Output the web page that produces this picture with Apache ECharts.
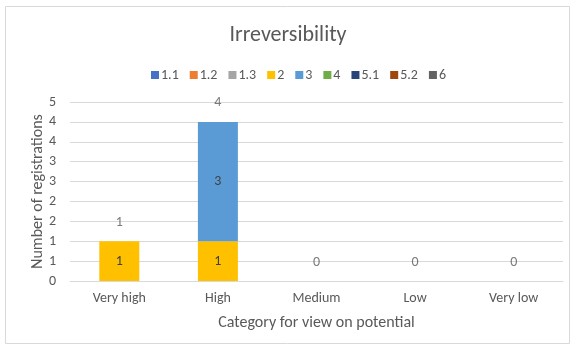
<!DOCTYPE html>
<html>
<head>
<meta charset="utf-8">
<script src="https://cdn.jsdelivr.net/npm/echarts@6/dist/echarts.min.js"></script>
<style>
  html, body { margin: 0; padding: 0; background: #fff; }
  #chart { width: 576px; height: 352px; }
</style>
</head>
<body>
<div id="chart"></div>
<script>
// Categories along the x axis
const categories = ['Very high', 'High', 'Medium', 'Low', 'Very low'];

// Registrations per sub-category
const seriesNames = ['1.1', '1.2', '1.3', '2', '3', '4', '5.1', '5.2', '6'];
const values_1_1 = [0, 0, 0, 0, 0];
const values_1_2 = [0, 0, 0, 0, 0];
const values_1_3 = [0, 0, 0, 0, 0];
const values_2   = [1, 1, 0, 0, 0];
const values_3   = [0, 3, 0, 0, 0];
const values_4   = [0, 0, 0, 0, 0];
const values_5_1 = [0, 0, 0, 0, 0];
const values_5_2 = [0, 0, 0, 0, 0];
const values_6   = [0, 0, 0, 0, 0];

const seriesValues = [values_1_1, values_1_2, values_1_3, values_2, values_3,
                      values_4, values_5_1, values_5_2, values_6];
const colors = ['#4472C4', '#ED7D31', '#A5A5A5', '#FFC000', '#5B9BD5',
                '#70AD47', '#264478', '#9E480E', '#636363'];

// Totals shown above each stack
const totals = categories.map((_, i) => seriesValues.reduce((s, arr) => s + arr[i], 0));

const textColor = '#595959';
const font = 'Calibri, Carlito, Lato, "Open Sans", sans-serif';

const barSeries = seriesNames.map((name, k) => ({
  name: name,
  type: 'bar',
  stack: 'total',
  barWidth: 40,
  itemStyle: { color: colors[k] },
  label: {
    show: true,
    position: 'inside',
    color: '#404040',
    fontSize: 14,
    fontFamily: font,
    formatter: p => (p.value ? String(p.value) : '')
  },
  data: seriesValues[k]
}));

const totalSeries = {
  name: 'Total',
  type: 'scatter',
  symbolSize: 0,
  silent: true,
  label: {
    show: true,
    position: 'top',
    distance: 12,
    color: textColor,
    fontSize: 14,
    fontFamily: font,
    formatter: p => String(p.value)
  },
  data: totals,
  z: 5
};

const chart = echarts.init(document.getElementById('chart'), null, { renderer: 'canvas' });
chart.setOption({
  animation: false,
  backgroundColor: '#ffffff',
  color: colors,
  title: {
    text: 'Irreversibility',
    left: 'center',
    top: 19,
    textStyle: { color: textColor, fontSize: 22, fontWeight: 'normal', fontFamily: font }
  },
  legend: {
    data: seriesNames,
    top: 63,
    left: 146,
    itemWidth: 8,
    itemHeight: 8,
    itemGap: 11,
    icon: 'rect',
    textStyle: { color: textColor, fontSize: 14, fontFamily: font, padding: [0, 0, 0, -3] }
  },
  grid: { left: 70, right: 13, top: 102, bottom: 71 },
  xAxis: {
    type: 'category',
    data: categories,
    name: 'Category for view on potential',
    nameLocation: 'middle',
    nameGap: 34,
    nameTextStyle: { color: textColor, fontSize: 16, fontFamily: font },
    axisLine: { lineStyle: { color: '#d9d9d9' } },
    axisTick: { show: false },
    axisLabel: { color: textColor, fontSize: 14, fontFamily: font, margin: 10 }
  },
  yAxis: {
    type: 'value',
    min: 0,
    max: 4.5,
    interval: 0.5,
    name: 'Number of registrations',
    nameLocation: 'middle',
    nameGap: 24,
    nameMoveOverlap: false,
    nameTextStyle: { color: textColor, fontSize: 16, fontFamily: font },
    axisLine: { show: false },
    axisTick: { show: false },
    splitLine: { lineStyle: { color: '#d9d9d9' } },
    axisLabel: {
      color: textColor, fontSize: 14, fontFamily: font, margin: 14,
      formatter: v => String(Math.round(v))
    }
  },
  series: [...barSeries, totalSeries],
  graphic: [{
    type: 'rect',
    shape: { x: 5.5, y: 6.5, width: 564, height: 337 },
    style: { fill: 'none', stroke: '#d9d9d9', lineWidth: 1 },
    silent: true
  }]
});
</script>
</body>
</html>
